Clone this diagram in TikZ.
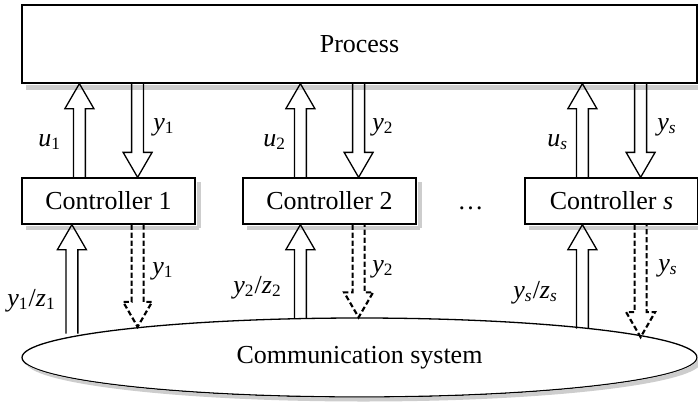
\documentclass[tikz,border=0pt]{standalone}
\usepackage{fontspec}
\setmainfont{Liberation Serif}
\usetikzlibrary{calc,shapes.geometric}

\def\px{0.46236pt}
\newcommand{\blockarrow}[3][]{%
  \draw[#1] let \p1=(#2), \p2=(#3),
      \n1={ifthenelse(\y2>\y1,1,-1)*11.56} in
    (\x2-2.77pt,\y1) -- (\x2-2.77pt,\y2-\n1) -- (\x2-6.7pt,\y2-\n1)
    -- (\x2,\y2) -- (\x2+6.7pt,\y2-\n1) -- (\x2+2.77pt,\y2-\n1)
    -- (\x2+2.77pt,\y1);}
\newcommand{\sig}[2]{\textit{#1}\textsubscript{#2}}
\definecolor{shadowgray}{RGB}{205,205,205}

\begin{document}
\begin{tikzpicture}[x=0.01625cm, y=-0.01625cm,
    font=\fontsize{12}{14}\selectfont,
    block/.style={draw, line width=0.6pt, fill=white, inner sep=0pt},
    channel/.style={block, ellipse},
    shadowfill/.style={fill=shadowgray, draw=none},
    flow/.style={line width=0.6pt},
    msg/.style={line width=1pt, dash pattern=on 2.4pt off 1.3pt},
    lbl/.style={inner sep=0pt, anchor=base west}
  ]
    \useasboundingbox (0,0) rectangle (698,402);

    \node[block, minimum width=675*\px, minimum height=78*\px]
      (proc) at (359.5,44) {Process};
    \node[block, minimum width=173*\px, minimum height=46*\px]
      (c1) at (108.5,201) {Controller 1};
    \node[block, minimum width=173*\px, minimum height=46*\px]
      (c2) at (329.5,201) {Controller 2};
    \node[block, minimum width=173*\px, minimum height=46*\px]
      (cs) at (611.5,201) {Controller \textit{s}};
    \node[anchor=base] (dots) at ($(c2.base)!0.5!(cs.base)$) {\dots};
    \node[channel, minimum width=675*\px, minimum height=79*\px]
      (comm) at (359.5,357.5) {Communication system};

    \path[shadowfill] (proc.south west) ++(5,1) rectangle ++(680,5);
    \foreach \n in {c1,c2,cs} {
      \path[shadowfill] (\n.south west) ++(5,1) rectangle ++(173,4);
      \path[shadowfill] (\n.north east) ++(1,5) rectangle ++(4,46);
    }
    \begin{scope}[even odd rule]
      \clip (0,0) rectangle (698,402)
        (comm.center) ellipse [x radius=338.2, y radius=40.2];
      \path[shadowfill] ($(comm.center)+(4,4)$) ellipse [x radius=338, y radius=40];
    \end{scope}

    \foreach \c/\f in {1/0.29, 2/0.333, s/0.333} {
      \coordinate (u\c) at ($(c\c.north west)!0.333!(c\c.north east)$);
      \coordinate (y\c) at ($(c\c.north west)!0.667!(c\c.north east)$);
      \coordinate (z\c) at ($(c\c.south west)!\f!(c\c.south east)$);
      \coordinate (m\c) at ($(c\c.south west)!0.667!(c\c.south east)$);
    }

    \foreach \c/\a/\b in {1/175.88/172.34, 2/146.84/92.17, s/7.48/4.37} {
      \blockarrow[flow]{u\c}{proc.south -| u\c}
      \blockarrow[flow]{proc.south -| y\c}{y\c}
      \blockarrow[flow]{z\c |- comm.\a}{z\c}
      \blockarrow[msg]{m\c}{m\c |- comm.\b}
    }

    \node[lbl] (lu1) at (38,146)  {\sig{u}{1}};
    \node[lbl] (lu2) at (263,146) {\sig{u}{2}};
    \node[lbl] (lus) at (547,146) {\sig{u}{\itshape s}};
    \node[lbl] (ly1) at (153,130) {\sig{y}{1}};
    \node[lbl] (ly2) at (372,130) {\sig{y}{2}};
    \node[lbl] (lys) at (657,130) {\sig{y}{\itshape s}};

    \node[lbl] (lz1) at (7,306)   {\sig{y}{1}/\sig{z}{1}};
    \node[lbl] (lz2) at (233,293) {\sig{y}{2}/\sig{z}{2}};
    \node[lbl] (lzs) at (513,298) {\sig{y}{\itshape s}/\sig{z}{\itshape s}};
    \node[lbl] (lm1) at (152,274) {\sig{y}{1}};
    \node[lbl] (lm2) at (372,272) {\sig{y}{2}};
    \node[lbl] (lms) at (658,271) {\sig{y}{\itshape s}};
  \end{tikzpicture}
\end{document}
